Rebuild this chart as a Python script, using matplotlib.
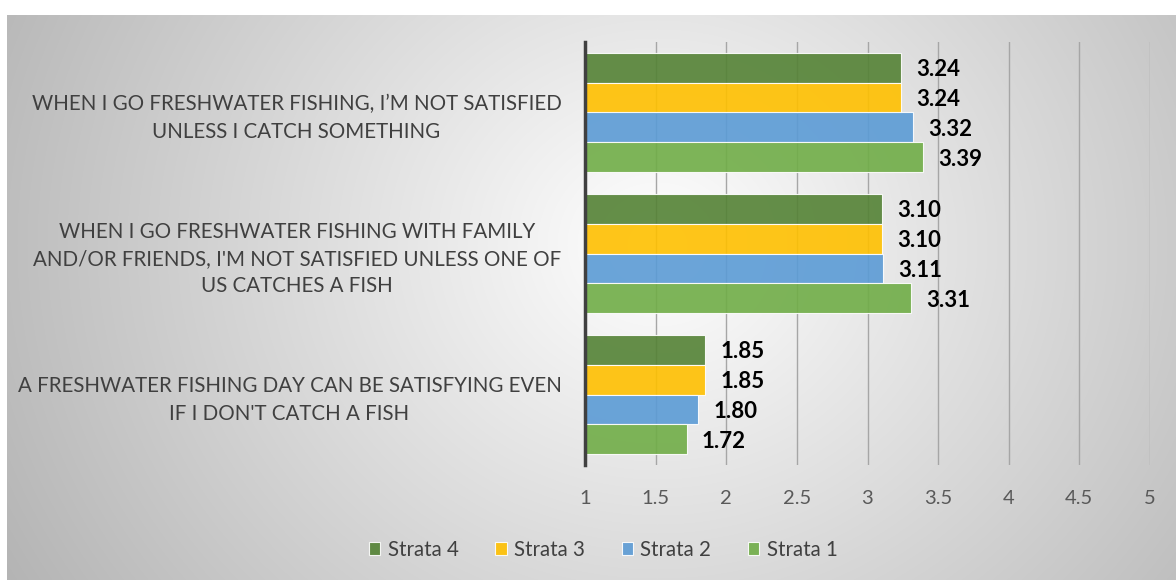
import numpy as np
import matplotlib.pyplot as plt

plt.rcParams['font.family'] = ['Lato', 'DejaVu Sans']

categories = ["A FRESHWATER FISHING DAY CAN BE SATISFYING EVEN\nIF I DON'T CATCH A FISH",
              "WHEN I GO FRESHWATER FISHING WITH FAMILY\nAND/OR FRIENDS, I'M NOT SATISFIED UNLESS ONE OF\nUS CATCHES A FISH",
              "WHEN I GO FRESHWATER FISHING, I\u2019M NOT SATISFIED\nUNLESS I CATCH SOMETHING"]
series_names = ["Strata 4", "Strata 3", "Strata 2", "Strata 1"]
strata4 = [1.85, 3.10, 3.24]
strata3 = [1.85, 3.10, 3.24]
strata2 = [1.80, 3.11, 3.32]
strata1 = [1.72, 3.31, 3.39]
colors = ["#548235", "#FFC000", "#5B9BD5", "#70AD47"]

fig = plt.figure(figsize=(11.76, 5.8), dpi=100)

# radial gradient background
bg = fig.add_axes([7/1176, 0, 1 - 7/1176, 1 - 15/580], zorder=-10)
h, w = 565, 1169
yy, xx = np.mgrid[0:h, 0:w]
r = np.sqrt(((xx - 650) / 1.0) ** 2 + ((yy - 230) / 0.9) ** 2)
val = 255 - 64 * np.clip(r / 640, 0, 1.2)
img = np.dstack([val, val, val]) / 255.0
bg.imshow(img, aspect='auto', extent=[0, 1, 0, 1])
bg.axis('off')

ax = fig.add_axes([585/1176, 1 - 465/580, (1150 - 585)/1176, 423/580])
ax.patch.set_alpha(0)

y = np.arange(len(categories))
bh = 0.85 / 4
all_vals = [strata4, strata3, strata2, strata1]
for i, (name, vals, c) in enumerate(zip(series_names, all_vals, colors)):
    pos = y + (1.5 - i) * bh
    ax.barh(pos, np.array(vals) - 1, left=1, height=bh, color=c, alpha=0.9,
            edgecolor=(1, 1, 1, 0.6), linewidth=0.8, label=name, zorder=3)
    for yp, v in zip(pos, vals):
        ax.annotate(f"{v:.2f}", (v, yp), xytext=(11, -1.5), textcoords='offset points',
                    ha='left', va='center', fontsize=16, fontweight='bold', color='black')

ax.set_xlim(1, 5)
ax.set_ylim(-0.5, 2.5)
ax.set_xticks(np.arange(1, 5.01, 0.5))
ax.set_xticklabels(["1", "1.5", "2", "2.5", "3", "3.5", "4", "4.5", "5"])
ax.set_yticks(y)
ax.set_yticklabels(categories, multialignment='center', linespacing=1.45, fontsize=14.8)
ax.tick_params(axis='both', length=0, colors='#404040')
ax.tick_params(axis='x', pad=18, colors='#595959', labelsize=14.5)
ax.tick_params(axis='y', pad=17)
ax.grid(axis='x', color='#a6a6a6', linewidth=1, zorder=0)
for s in ['top', 'right', 'bottom']:
    ax.spines[s].set_visible(False)
ax.spines['left'].set_color('#404040')
ax.spines['left'].set_linewidth(2.5)
ax.spines['left'].set_zorder(4)

fig.legend(loc='center', bbox_to_anchor=(0.513, 0.052), ncol=4, frameon=False,
           fontsize=14.8, handlelength=0.55, handleheight=0.55, handletextpad=0.35,
           columnspacing=1.8, labelcolor='#404040')

fig.savefig('out.png', dpi=100)
